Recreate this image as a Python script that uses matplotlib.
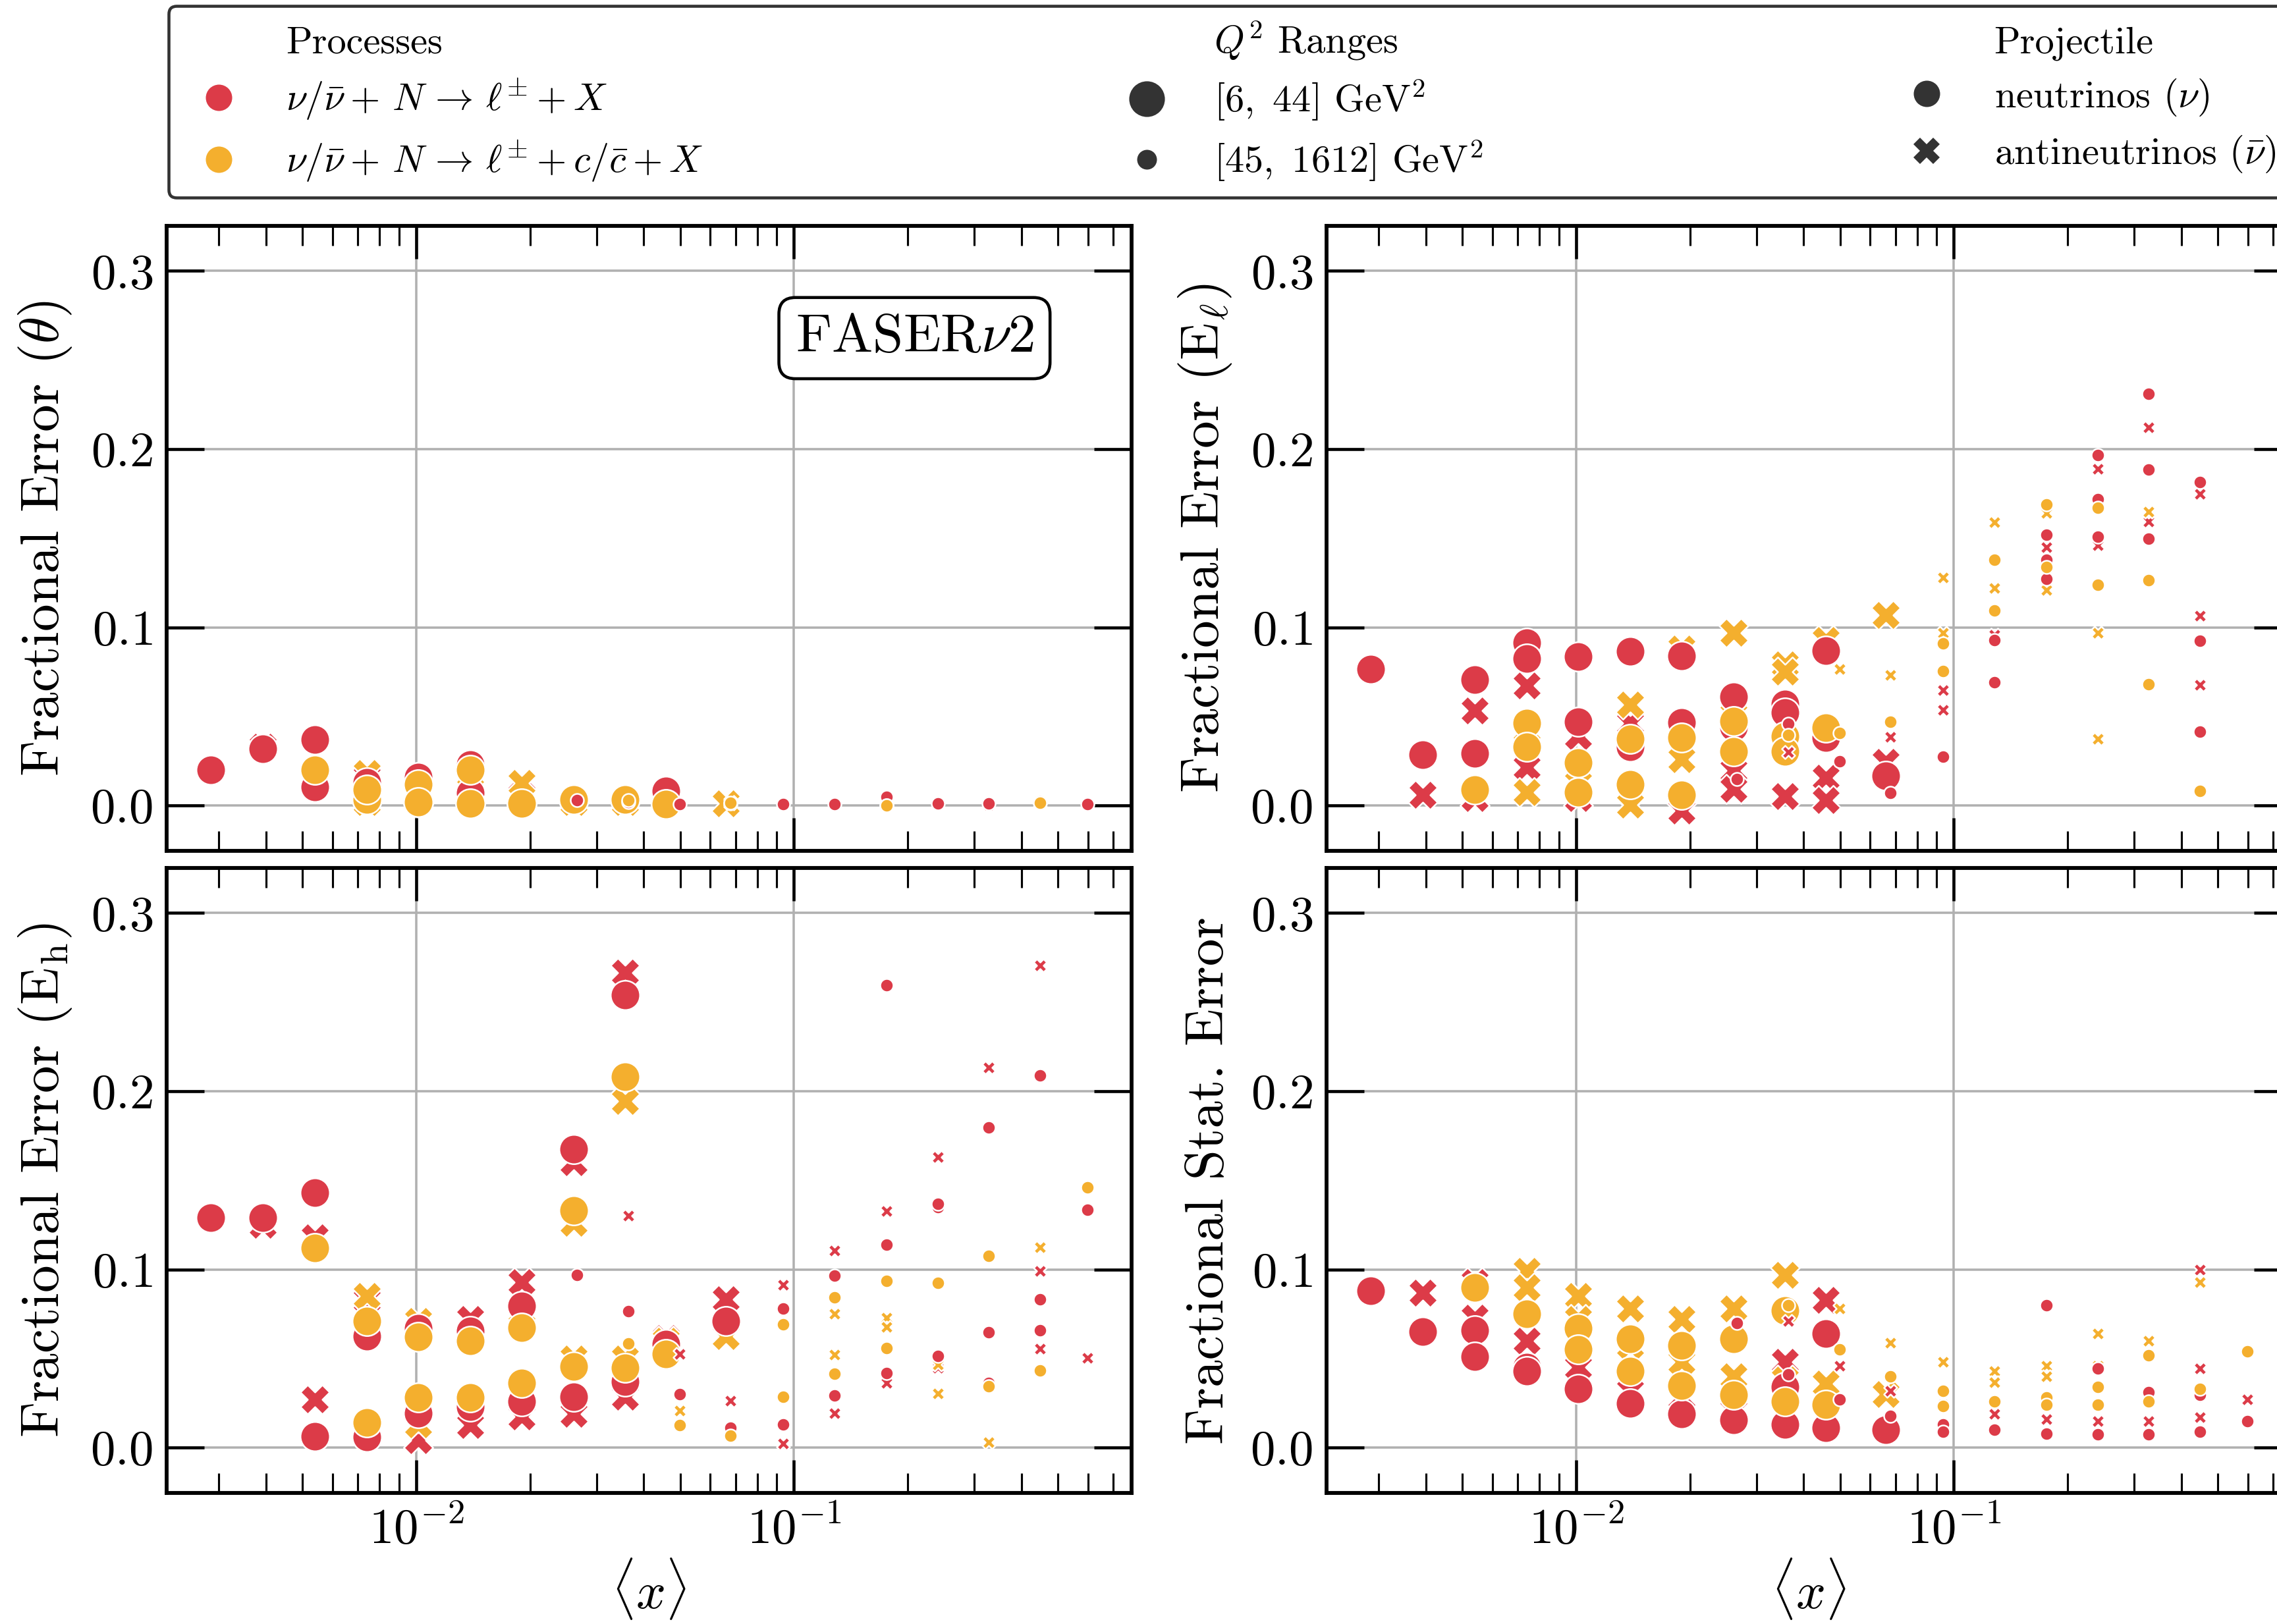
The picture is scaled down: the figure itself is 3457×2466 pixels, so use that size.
import numpy as np
import matplotlib
matplotlib.use("Agg")
import matplotlib.pyplot as plt
from matplotlib.lines import Line2D
from matplotlib.ticker import LogLocator, NullFormatter, FixedLocator

plt.rcParams.update({
    "font.family": "serif",
    "font.serif": ["cmr10"],
    "mathtext.fontset": "cm",
    "axes.formatter.use_mathtext": True,
})

RED = "#DC3B48"
ORANGE = "#F4AF2E"
DARK = "#333333"

# <x> per x-bin for the two Q^2 ranges
x_low_q2 = [0.00286, 0.00392, 0.00538, 0.00740, 0.01012, 0.01388, 0.0190, 0.0261, 0.0357,
            0.0458, 0.0660, 0.0905, 0.124, 0.170, 0.233, 0.319, 0.437, 0.598]
x_high_q2 = [0.00295, 0.00404, 0.00554, 0.00762, 0.01042, 0.0143, 0.0196, 0.0266, 0.0364,
             0.0498, 0.0678, 0.0937, 0.1278, 0.176, 0.2404, 0.328, 0.448, 0.598]

# ---- fractional error from the lepton angle (theta); (x-bin, value) ----
theta_inc_low_nu = [(0, 0.020), (1, 0.032), (2, 0.037), (2, 0.0105), (3, 0.013), (4, 0.016),
                    (5, 0.023), (5, 0.007), (9, 0.008)]
theta_inc_low_nub = [(1, 0.033), (3, 0.016), (4, 0.014), (5, 0.010), (6, 0.006), (9, 0.001)]
theta_chm_low_nu = [(2, 0.020), (3, 0.0035), (3, 0.009), (4, 0.0117), (4, 0.002), (5, 0.020),
                    (5, 0.001), (6, 0.001), (7, 0.0035), (8, 0.0035), (9, 0.0007)]
theta_chm_low_nub = [(3, 0.018), (3, 0.002), (4, 0.005), (5, 0.0175), (6, 0.0128), (7, 0.002),
                     (8, 0.002), (10, 0.001)]
theta_inc_high_nu = [(7, 0.003), (8, 0.002), (9, 0.0007), (10, 0.001), (11, 0.0007), (12, 0.0007),
                     (13, 0.0047), (13, 0.0), (14, 0.001), (15, 0.001), (16, 0.0023), (17, 0.0007)]
theta_inc_high_nub = [(10, 0.001), (13, 0.001), (15, 0.0005), (16, 0.001)]
theta_chm_high_nu = [(8, 0.003), (10, 0.0015), (13, 0.0), (16, 0.0015)]
theta_chm_high_nub = [(10, 0.002), (16, 0.0025)]

# ---- fractional error from the lepton energy (E_l) ----
elep_inc_low_nu = [(0, 0.0765), (1, 0.0285), (2, 0.0705), (2, 0.0293), (3, 0.0914), (3, 0.0826),
                   (4, 0.0835), (4, 0.047), (5, 0.0867), (5, 0.033), (6, 0.0838), (6, 0.0465),
                   (7, 0.061), (7, 0.044), (8, 0.057), (8, 0.0523), (9, 0.087), (9, 0.038),
                   (10, 0.0168)]
elep_inc_low_nub = [(1, 0.0061), (2, 0.0531), (2, 0.004), (3, 0.0673), (3, 0.0213), (4, 0.039),
                    (4, 0.004), (5, 0.0462), (5, 0.0), (6, 0.039), (6, -0.003), (7, 0.0197),
                    (7, 0.0093), (8, 0.0053), (9, 0.0157), (9, 0.0029), (10, 0.0245)]
elep_chm_low_nu = [(2, 0.0088), (3, 0.0462), (3, 0.033), (4, 0.0242), (4, 0.0074), (5, 0.0373),
                   (5, 0.012), (6, 0.038), (6, 0.0058), (7, 0.0474), (7, 0.0305), (8, 0.039),
                   (8, 0.0305), (9, 0.0438)]
elep_chm_low_nub = [(3, 0.0341), (3, 0.0074), (4, 0.0125), (5, 0.0566), (5, 0.0005), (6, 0.088),
                    (6, 0.026), (7, 0.0967), (7, 0.0593), (8, 0.079), (8, 0.075), (9, 0.0927),
                    (10, 0.107)]
elep_inc_high_nu = [(7, 0.015), (8, 0.046), (9, 0.0249), (10, 0.0069), (11, 0.0274), (12, 0.0927),
                    (12, 0.0691), (13, 0.152), (13, 0.138), (13, 0.127), (14, 0.1965), (14, 0.172),
                    (14, 0.151), (15, 0.231), (15, 0.1887), (15, 0.1496), (16, 0.1816),
                    (16, 0.0923), (16, 0.0414)]
elep_inc_high_nub = [(8, 0.0298), (10, 0.0386), (11, 0.0646), (11, 0.0537), (12, 0.0959),
                     (13, 0.1448), (14, 0.189), (14, 0.146), (15, 0.212), (15, 0.1595),
                     (16, 0.175), (16, 0.1063), (16, 0.0678)]
elep_chm_high_nu = [(8, 0.0396), (9, 0.0406), (10, 0.047), (11, 0.091), (11, 0.0755), (12, 0.138),
                    (12, 0.1095), (13, 0.169), (13, 0.134), (14, 0.167), (14, 0.124),
                    (15, 0.1265), (15, 0.068), (16, 0.0082)]
elep_chm_high_nub = [(9, 0.0766), (10, 0.0734), (11, 0.128), (11, 0.0967), (12, 0.159),
                     (12, 0.122), (13, 0.164), (13, 0.121), (14, 0.097), (14, 0.0373),
                     (15, 0.165)]

# ---- fractional error from the hadronic energy (E_h) ----
ehad_inc_low_nu = [(0, 0.1289), (1, 0.1289), (2, 0.143), (2, 0.0064), (3, 0.0626), (3, 0.006),
                   (4, 0.067), (4, 0.0192), (5, 0.0654), (5, 0.023), (6, 0.0795), (6, 0.0258),
                   (7, 0.1676), (7, 0.0287), (8, 0.254), (8, 0.0371), (9, 0.058), (10, 0.071)]
ehad_inc_low_nub = [(1, 0.125), (2, 0.118), (2, 0.0271), (3, 0.083), (4, 0.004), (5, 0.072),
                    (5, 0.0126), (6, 0.0927), (6, 0.0173), (7, 0.160), (7, 0.019), (8, 0.2665),
                    (8, 0.0287), (9, 0.0616), (10, 0.0833)]
ehad_chm_low_nu = [(2, 0.112), (3, 0.071), (3, 0.014), (4, 0.062), (4, 0.028), (5, 0.060),
                   (5, 0.028), (6, 0.0673), (6, 0.0362), (7, 0.1333), (7, 0.0456), (8, 0.208),
                   (8, 0.0447), (9, 0.0526)]
ehad_chm_low_nub = [(3, 0.0852), (4, 0.071), (4, 0.013), (5, 0.060), (6, 0.0767), (7, 0.126),
                    (7, 0.050), (8, 0.1945), (8, 0.05), (9, 0.060), (10, 0.0626)]
ehad_inc_high_nu = [(7, 0.097), (8, 0.0767), (9, 0.030), (10, 0.011), (11, 0.0782), (11, 0.013),
                    (12, 0.0965), (12, 0.0292), (13, 0.2596), (13, 0.114), (13, 0.0418),
                    (14, 0.135), (14, 0.137), (14, 0.0516), (15, 0.1798), (15, 0.0648),
                    (15, 0.0362), (16, 0.2089), (16, 0.0833), (16, 0.0658), (17, 0.1336)]
ehad_inc_high_nub = [(8, 0.130), (9, 0.0526), (10, 0.0262), (11, 0.0912), (11, 0.0023),
                     (12, 0.1107), (12, 0.0192), (13, 0.1327), (13, 0.0362), (14, 0.163),
                     (14, 0.0447), (15, 0.2134), (16, 0.2705), (16, 0.099), (16, 0.0554),
                     (17, 0.0503)]
ehad_chm_high_nu = [(8, 0.0584), (9, 0.0126), (10, 0.0066), (11, 0.0692), (11, 0.0287),
                    (12, 0.0843), (12, 0.0413), (13, 0.0937), (13, 0.056), (14, 0.0924),
                    (15, 0.1078), (15, 0.0343), (16, 0.0432), (17, 0.1459)]
ehad_chm_high_nub = [(9, 0.0207), (12, 0.0752), (12, 0.0522), (13, 0.073), (13, 0.0677),
                     (14, 0.0466), (14, 0.0305), (15, 0.0032), (16, 0.1125)]

# ---- fractional statistical error ----
stat_inc_low_nu = [(0, 0.088), (1, 0.065), (2, 0.066), (2, 0.051), (3, 0.045), (3, 0.043),
                   (4, 0.033), (5, 0.025), (6, 0.019), (7, 0.0155), (8, 0.034), (8, 0.013),
                   (9, 0.064), (9, 0.011), (10, 0.010)]
stat_inc_low_nub = [(1, 0.087), (2, 0.093), (2, 0.073), (3, 0.060), (4, 0.045), (5, 0.032),
                    (6, 0.028), (7, 0.029), (8, 0.048), (9, 0.083)]
stat_chm_low_nu = [(2, 0.090), (3, 0.075), (4, 0.067), (4, 0.055), (5, 0.061), (5, 0.043),
                   (6, 0.0575), (6, 0.035), (7, 0.061), (7, 0.0295), (8, 0.077), (8, 0.026),
                   (9, 0.024)]
stat_chm_low_nub = [(3, 0.099), (3, 0.090), (4, 0.085), (4, 0.072), (5, 0.078), (5, 0.0575),
                    (6, 0.072), (6, 0.048), (7, 0.078), (7, 0.040), (8, 0.097), (8, 0.038),
                    (9, 0.036), (10, 0.030)]
stat_inc_high_nu = [(7, 0.070), (8, 0.041), (9, 0.027), (10, 0.018), (11, 0.013), (11, 0.009),
                    (12, 0.010), (13, 0.080), (13, 0.008), (14, 0.0445), (14, 0.0075),
                    (15, 0.031), (15, 0.0075), (16, 0.029), (16, 0.0297), (16, 0.009),
                    (17, 0.015)]
stat_inc_high_nub = [(8, 0.071), (9, 0.046), (10, 0.032), (11, 0.024), (12, 0.019), (13, 0.016),
                     (14, 0.015), (15, 0.015), (16, 0.100), (16, 0.0445), (16, 0.017),
                     (17, 0.027)]
stat_chm_high_nu = [(8, 0.080), (9, 0.055), (10, 0.040), (11, 0.032), (11, 0.0235), (12, 0.026),
                    (13, 0.028), (13, 0.024), (14, 0.034), (14, 0.024), (15, 0.052), (15, 0.026),
                    (16, 0.033), (17, 0.054)]
stat_chm_high_nub = [(9, 0.078), (10, 0.059), (11, 0.048), (12, 0.043), (12, 0.0365), (13, 0.046),
                     (13, 0.040), (14, 0.064), (14, 0.046), (15, 0.060), (16, 0.093)]

ylabels = [r"Fractional Error ($\theta$)", r"Fractional Error (E$_\ell$)",
           r"Fractional Error (E$_{\rm h}$)", r"Fractional Stat. Error"]

# drawing order: antineutrino crosses first, neutrino circles on top; large Q^2 markers last
panel_data = [
    [theta_inc_low_nub, theta_chm_low_nub, theta_inc_low_nu, theta_chm_low_nu,
     theta_inc_high_nub, theta_chm_high_nub, theta_inc_high_nu, theta_chm_high_nu],
    [elep_inc_low_nub, elep_chm_low_nub, elep_inc_low_nu, elep_chm_low_nu,
     elep_inc_high_nub, elep_chm_high_nub, elep_inc_high_nu, elep_chm_high_nu],
    [ehad_inc_low_nub, ehad_chm_low_nub, ehad_inc_low_nu, ehad_chm_low_nu,
     ehad_inc_high_nub, ehad_chm_high_nub, ehad_inc_high_nu, ehad_chm_high_nu],
    [stat_inc_low_nub, stat_chm_low_nub, stat_inc_low_nu, stat_chm_low_nu,
     stat_inc_high_nub, stat_chm_high_nub, stat_inc_high_nu, stat_chm_high_nu],
]

S_BIG, S_SMALL = 114, 23
# colour, size, marker, x-table for each of the eight series (same order as panel_data)
series_style = [
    (RED, S_BIG, "X", x_low_q2), (ORANGE, S_BIG, "X", x_low_q2),
    (RED, S_BIG, "o", x_low_q2), (ORANGE, S_BIG, "o", x_low_q2),
    (RED, S_SMALL, "X", x_high_q2), (ORANGE, S_SMALL, "X", x_high_q2),
    (RED, S_SMALL, "o", x_high_q2), (ORANGE, S_SMALL, "o", x_high_q2),
]

W, H, DPI = 3457, 2466, 300
fig = plt.figure(figsize=(W / DPI, H / DPI), dpi=DPI)

ax_w, ax_h = 1465 / W, 949 / H
lefts = [253 / W, 2014 / W]
bottoms = [1 - 1291.6 / H, 1 - 2266.7 / H]
positions = [(lefts[0], bottoms[0]), (lefts[1], bottoms[0]),
             (lefts[0], bottoms[1]), (lefts[1], bottoms[1])]

for i, (pos, data, ylab) in enumerate(zip(positions, panel_data, ylabels)):
    ax = fig.add_axes([pos[0], pos[1], ax_w, ax_h])
    for pts, (col, s, mk, xtab) in zip(data, series_style):
        idx = np.array([p[0] for p in pts])
        val = np.array([p[1] for p in pts])
        xs = np.asarray(xtab)[idx]
        ax.scatter(xs, val, s=s, c=col, marker=mk, edgecolors="white",
                   linewidths=0.6, zorder=3)
    ax.set_xscale("log")
    ax.set_xlim(0.002184, 0.783)
    ax.set_ylim(-0.0253, 0.3254)
    ax.yaxis.set_major_locator(FixedLocator([0.0, 0.1, 0.2, 0.3]))
    ax.xaxis.set_major_locator(LogLocator(base=10, numticks=10))
    ax.xaxis.set_minor_locator(LogLocator(base=10, subs=np.arange(2, 10), numticks=30))
    ax.xaxis.set_minor_formatter(NullFormatter())
    ax.grid(True, which="major", color="#b0b0b0", lw=0.85)
    ax.set_axisbelow(True)
    ax.tick_params(which="both", direction="in", top=True, right=True, labelsize=18)
    ax.tick_params(axis="y", which="major", length=13.7, width=1.1, pad=5)
    ax.tick_params(axis="x", which="major", length=12, width=1.1, pad=5)
    ax.tick_params(axis="x", which="minor", length=7.2, width=0.75)
    for sp in ax.spines.values():
        sp.set_linewidth(1.4)
    ax.set_ylabel(ylab, fontsize=20, labelpad=6)
    if i < 2:
        ax.tick_params(labelbottom=False)
    else:
        ax.set_xlabel(r"$\langle x \rangle$", fontsize=19, labelpad=1)
    if i == 0:
        ax.text(0.775, 0.82, r"FASER$\nu$2", transform=ax.transAxes, ha="center",
                va="center", fontsize=20,
                bbox=dict(boxstyle="round,pad=0.3", fc="white", ec="black", lw=1.1))

blank = Line2D([], [], linestyle="none", marker="")
handles = [
    blank,
    Line2D([], [], ls="none", marker="o", ms=9.6, mfc=RED, mec=RED, mew=0),
    Line2D([], [], ls="none", marker="o", ms=9.6, mfc=ORANGE, mec=ORANGE, mew=0),
    blank,
    Line2D([], [], ls="none", marker="o", ms=13.0, mfc=DARK, mec=DARK, mew=0),
    Line2D([], [], ls="none", marker="o", ms=7.2, mfc=DARK, mec=DARK, mew=0),
    blank,
    Line2D([], [], ls="none", marker="o", ms=9.6, mfc=DARK, mec=DARK, mew=0),
    Line2D([], [], ls="none", marker="X", ms=9.6, mfc=DARK, mec=DARK, mew=0),
]
labels = [
    "Processes",
    r"$\nu/\bar{\nu} +\, N \,\rightarrow\, \ell^{\pm} + X$",
    r"$\nu/\bar{\nu} +\, N \,\rightarrow\, \ell^{\pm} + c/\bar{c} + X$",
    r"$Q^2$ Ranges",
    r"$[6,\ 44]$ GeV$^2$",
    r"$[45,\ 1612]$ GeV$^2$",
    "Projectile",
    r"neutrinos $(\nu)$",
    r"antineutrinos $(\bar{\nu})$",
]
leg = fig.legend(handles, labels, ncol=3, loc="upper left",
                 bbox_to_anchor=(256 / W, 1 - 9 / H), bbox_transform=fig.transFigure,
                 fontsize=14, frameon=True, fancybox=True, framealpha=0.8, edgecolor="k",
                 borderpad=0.35, labelspacing=0.42, handlelength=1.9, handletextpad=0.8,
                 columnspacing=10.6, borderaxespad=0)
leg.get_frame().set_linewidth(1.1)

fig.savefig("out.png", dpi=DPI)
